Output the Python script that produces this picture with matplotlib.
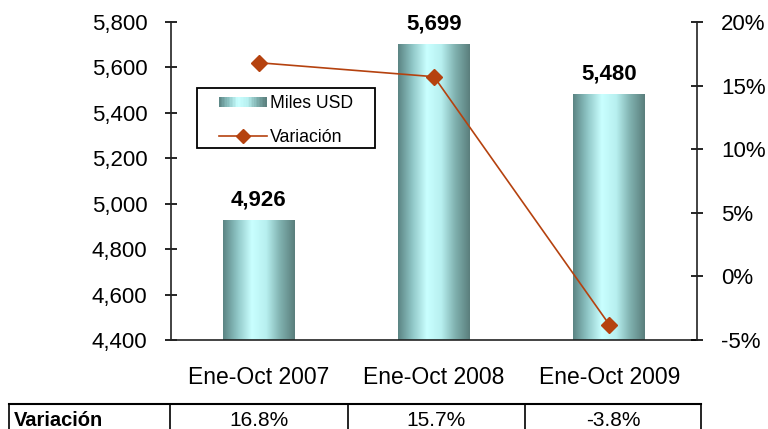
import numpy as np
import matplotlib
matplotlib.use("Agg")
import matplotlib.pyplot as plt
from matplotlib.colors import LinearSegmentedColormap
from matplotlib.legend_handler import HandlerBase
from matplotlib.patches import Rectangle
from matplotlib.lines import Line2D
from matplotlib.ticker import FuncFormatter, MultipleLocator

categories = ["Ene-Oct 2007", "Ene-Oct 2008", "Ene-Oct 2009"]
miles_usd = [4926, 5699, 5480]
variacion = [16.8, 15.7, -3.8]
table_labels = ["16.8%", "15.7%", "-3.8%"]

plt.rcParams['font.family'] = ['Liberation Sans', 'DejaVu Sans']

cmap = LinearSegmentedColormap.from_list(
    "cyl", ["#5b8483", "#8fc6c6", "#c9ffff", "#b8f0f0", "#7fb0ae", "#5a7e7c"])
grad = np.linspace(0, 1, 256).reshape(1, -1)

W, H = 768, 429
def fx(px): return px / W
def fy(py): return 1 - py / H

fig = plt.figure(figsize=(7.68, 4.29), dpi=100)
ax = fig.add_axes([0.2227, 0.2075, 0.6849, 0.7412])
ax2 = ax.twinx()

x = np.arange(len(categories))
bw = 0.41
bars = ax.bar(x, miles_usd, width=bw, color="none", edgecolor="none", zorder=2)
for b in bars:
    x0, y0 = b.get_x(), 4400
    ax.imshow(grad, cmap=cmap, aspect="auto", extent=(x0, x0 + b.get_width(), y0, b.get_height()),
              zorder=2, interpolation="bilinear")
for xi, v in zip(x, miles_usd):
    ax.text(xi, v + 45, f"{v:,}", ha="center", va="bottom", fontsize=16, fontweight="bold")

ax.set_xlim(-0.5, 2.5)
ax.set_ylim(4400, 5800)
ax.yaxis.set_major_locator(MultipleLocator(200))
ax.yaxis.set_major_formatter(FuncFormatter(lambda v, p: f"{int(v):,}"))
ax.set_xticks(x)
ax.set_xticklabels(categories, fontsize=16.5)
ax.tick_params(axis="x", length=0, pad=19)
ax.tick_params(axis="y", direction="inout", length=9, labelsize=16, pad=12.5, width=1.2)

line_color = "#b5420f"
ax2.plot(x, variacion, color=line_color, lw=1.2, marker="D", markersize=8, zorder=5)
ax2.set_ylim(-5, 20)
ax2.yaxis.set_major_locator(MultipleLocator(5))
ax2.yaxis.set_major_formatter(FuncFormatter(lambda v, p: f"{int(round(v))}%"))
ax2.tick_params(axis="y", direction="inout", length=9, labelsize=16, pad=13, width=1.2)

for a in (ax, ax2):
    a.spines["top"].set_visible(False)
    for s in ("left", "right", "bottom"):
        a.spines[s].set_linewidth(1.2)
        a.spines[s].set_color("#222222")
ax.spines["right"].set_visible(False)
ax2.spines["left"].set_visible(False)
ax2.spines["bottom"].set_visible(False)
ax.set_zorder(ax2.get_zorder() - 1)
ax2.patch.set_visible(False)
ax.set_xlim(-0.5, 2.5)

class GradHandler(HandlerBase):
    def create_artists(self, legend, orig_handle, xdescent, ydescent, width, height, fontsize, trans):
        arts = []
        n = 30
        for i in range(n):
            c = cmap((i + 0.5) / n)
            r = Rectangle((-xdescent + width * i / n, -ydescent + height * 0.1), width / n + 0.3,
                          height * 0.8, facecolor=c, edgecolor="none", transform=trans)
            arts.append(r)
        return arts

proxy_bar = Rectangle((0, 0), 1, 1)
proxy_line = Line2D([], [], color=line_color, marker="D", markersize=7, lw=1.2)
leg = ax2.legend([proxy_bar, proxy_line], ["Miles USD", "Variación"],
                 handler_map={Rectangle: GradHandler()},
                 loc="upper left", bbox_to_anchor=(fx(219), fy(95)), bbox_transform=fig.transFigure,
                 fontsize=12.7, frameon=False, handlelength=2.7,
                 borderpad=0, borderaxespad=0, labelspacing=0.95, handletextpad=0.2)
leg.set_zorder(10)
box = Rectangle((fx(197), fy(148)), fx(375) - fx(197), fy(88) - fy(148),
                facecolor="white", edgecolor="black", lw=1.3, zorder=8,
                transform=fig.transFigure, clip_on=False)
ax2.add_artist(box)

# Bottom table
ytop = fy(404)
ybot = fy(432)
xs = [9, 170, 348, 525, 701]
fig.add_artist(Line2D([fx(xs[0]), fx(xs[-1])], [ytop, ytop], color="black", lw=1.5))
for xv in xs:
    fig.add_artist(Line2D([fx(xv), fx(xv)], [ytop, ybot], color="black", lw=1.2))
fig.text(fx(14), fy(420), "Variación", ha="left", va="center", fontsize=14.5, fontweight="bold")
for i, lab in enumerate(table_labels):
    cx = (xs[i + 1] + xs[i + 2]) / 2
    fig.text(fx(cx), fy(420), lab, ha="center", va="center", fontsize=15)

fig.savefig("out.png", dpi=100)
